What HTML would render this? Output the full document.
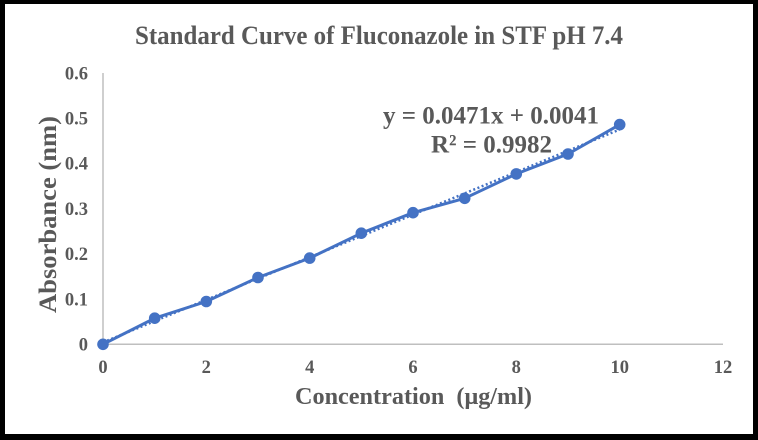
<!DOCTYPE html>
<html>
<head>
<meta charset="utf-8">
<style>
  html, body { margin: 0; padding: 0; background: #000; }
  body { width: 758px; height: 440px; overflow: hidden; }
  svg { display: block; }
  text { font-family: "Liberation Serif", "DejaVu Serif", serif; font-weight: bold; fill: #595959; }
</style>
</head>
<body>
<svg width="758" height="440" viewBox="0 0 758 440" xmlns="http://www.w3.org/2000/svg">
  <rect x="0" y="0" width="758" height="440" fill="#000"/>
  <rect x="5" y="4" width="748" height="430" fill="#fff"/>

  <!-- Title -->
  <text x="379" y="44" font-size="26" text-anchor="middle" textLength="488" lengthAdjust="spacingAndGlyphs">Standard Curve of Fluconazole in STF pH 7.4</text>

  <!-- Axes -->
  <line x1="103" y1="73" x2="103" y2="344.3" stroke="#bfbfbf" stroke-width="1.5"/>
  <line x1="103" y1="344.3" x2="723" y2="344.3" stroke="#bfbfbf" stroke-width="1.5"/>

  <!-- Y tick labels -->
  <g font-size="18.5" text-anchor="end">
    <text x="88" y="350.5">0</text>
    <text x="88" y="305.3">0.1</text>
    <text x="88" y="260.1">0.2</text>
    <text x="88" y="214.9">0.3</text>
    <text x="88" y="169.7">0.4</text>
    <text x="88" y="124.5">0.5</text>
    <text x="88" y="79.3">0.6</text>
  </g>

  <!-- X tick labels -->
  <g font-size="18.5" text-anchor="middle">
    <text x="103" y="373">0</text>
    <text x="206.3" y="373">2</text>
    <text x="309.7" y="373">4</text>
    <text x="413" y="373">6</text>
    <text x="516.3" y="373">8</text>
    <text x="619.7" y="373">10</text>
    <text x="723" y="373">12</text>
  </g>

  <!-- Axis titles -->
  <text x="413.5" y="404" font-size="24.5" text-anchor="middle" textLength="237" lengthAdjust="spacingAndGlyphs" xml:space="preserve">Concentration  (μg/ml)</text>
  <text transform="translate(56,214.5) rotate(-90)" x="0" y="0" font-size="25" text-anchor="middle" textLength="197" lengthAdjust="spacingAndGlyphs">Absorbance (nm)</text>

  <!-- Trendline -->
  <line x1="103" y1="342.4" x2="619.7" y2="129.5" stroke="#4472C4" stroke-width="2.5" stroke-dasharray="2 2.5"/>

  <!-- Series line -->
  <polyline fill="none" stroke="#4472C4" stroke-width="3" stroke-linejoin="round"
    points="103,344.3 154.7,318.2 206.3,301.5 258,277.5 309.7,258.1 361.3,233.2 413,212.7 464.7,198.3 516.3,173.9 568,154 619.7,124.6"/>

  <!-- Markers -->
  <g fill="#4472C4">
    <circle cx="103" cy="344.3" r="5.8"/>
    <circle cx="154.7" cy="318.2" r="5.8"/>
    <circle cx="206.3" cy="301.5" r="5.8"/>
    <circle cx="258" cy="277.5" r="5.8"/>
    <circle cx="309.7" cy="258.1" r="5.8"/>
    <circle cx="361.3" cy="233.2" r="5.8"/>
    <circle cx="413" cy="212.7" r="5.8"/>
    <circle cx="464.7" cy="198.3" r="5.8"/>
    <circle cx="516.3" cy="173.9" r="5.8"/>
    <circle cx="568" cy="154" r="5.8"/>
    <circle cx="619.7" cy="124.6" r="5.8"/>
  </g>

  <!-- Equation -->
  <text x="491" y="123.3" font-size="25.5" text-anchor="middle" textLength="216" lengthAdjust="spacingAndGlyphs">y = 0.0471x + 0.0041</text>
  <text x="491.5" y="152.7" font-size="25.5" text-anchor="middle" textLength="121" lengthAdjust="spacingAndGlyphs">R² = 0.9982</text>
</svg>
</body>
</html>
